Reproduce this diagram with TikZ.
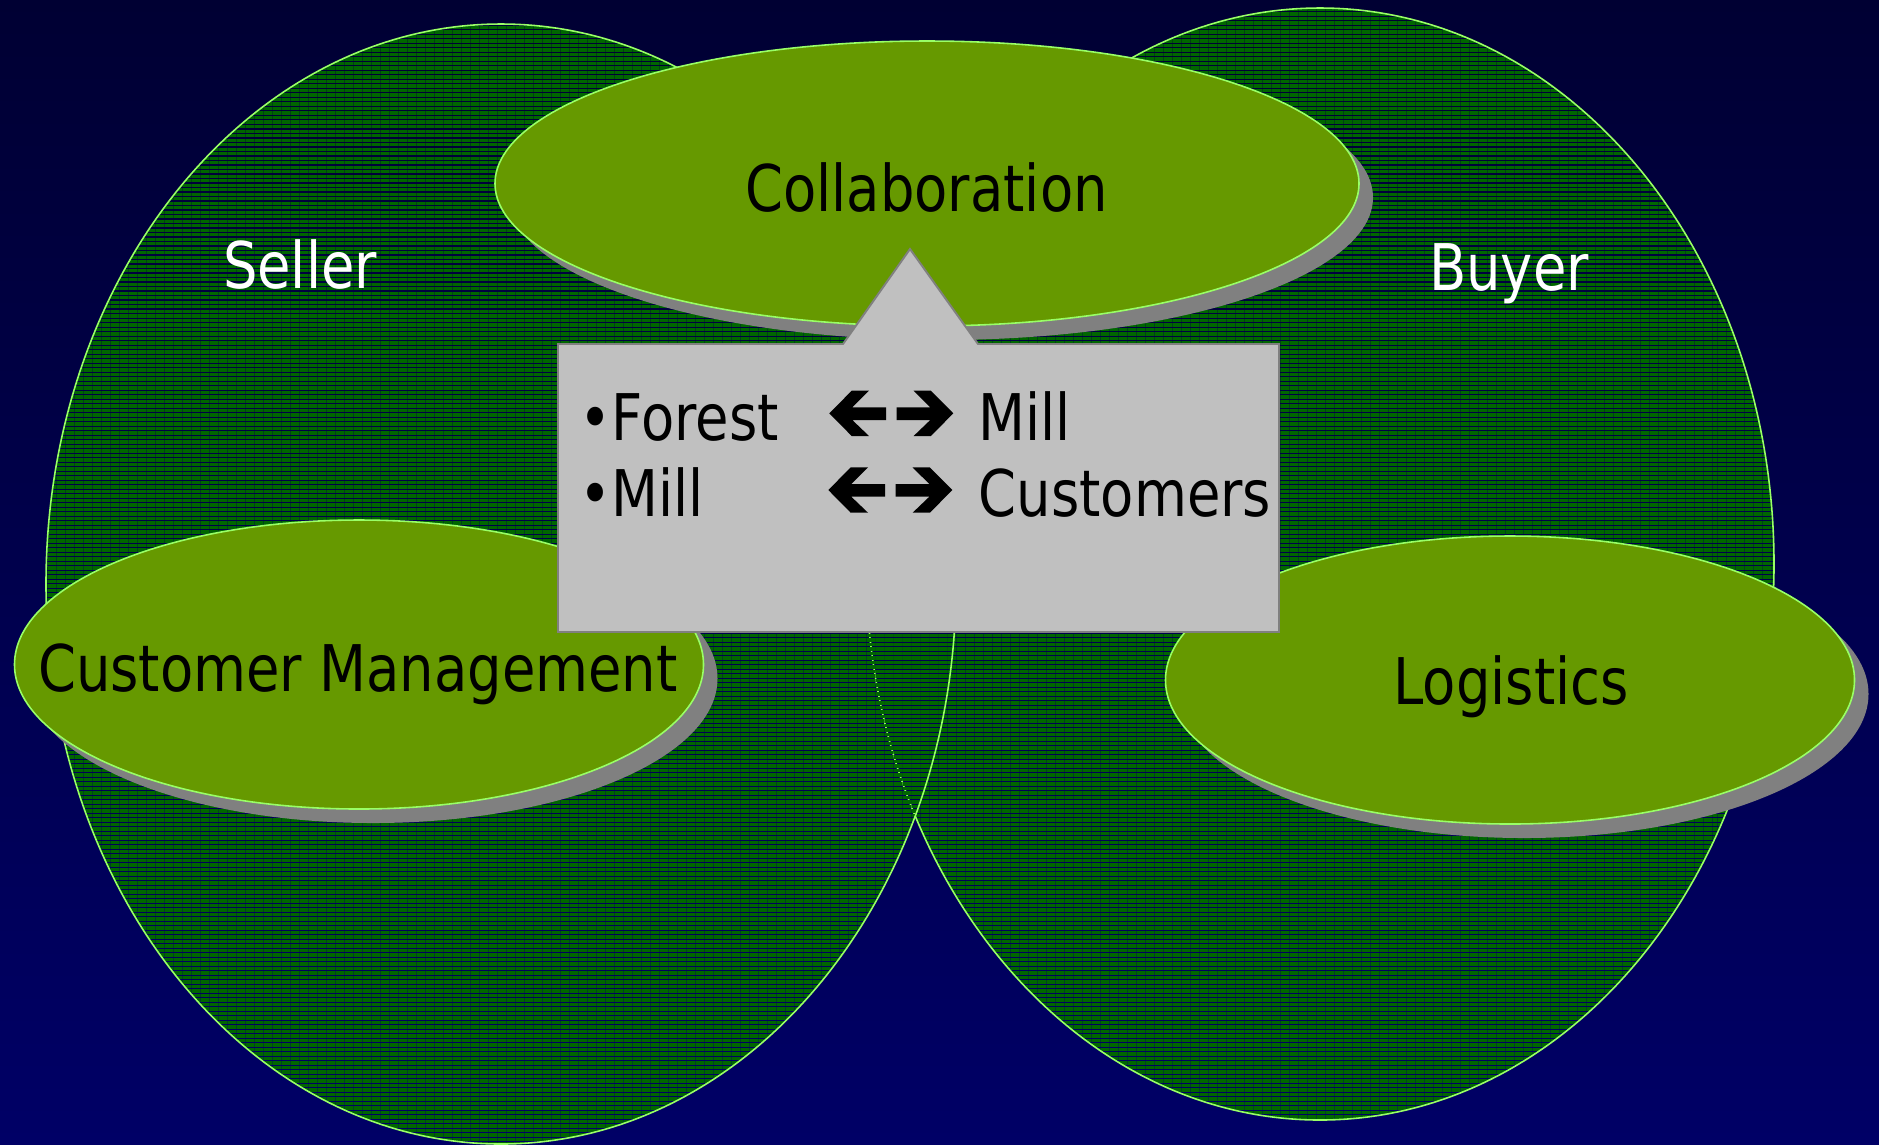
\documentclass[tikz,border=0pt]{standalone}
\usepackage{fontspec}
\setmainfont{DejaVu Sans}[FakeStretch=0.845]
\usetikzlibrary{patterns.meta}
\definecolor{navytop}{HTML}{000033}
\definecolor{navybottom}{HTML}{000066}
\definecolor{stripegreen}{HTML}{006600}
\definecolor{rimgreen}{HTML}{99FF66}
\definecolor{leafgreen}{HTML}{669900}
\definecolor{shadowgray}{HTML}{808080}
\definecolor{boxgray}{HTML}{C0C0C0}
\tikzset{
	venn/.style={draw=rimgreen, line width=0.45pt, pattern={Lines[angle=0, distance=1.28pt, line width=0.98pt]}, pattern color=stripegreen},
	bubble/.style={fill=leafgreen, draw=rimgreen, line width=0.45pt},
	bubbleshadow/.style={fill=shadowgray},
	callout/.style={fill=boxgray, draw=shadowgray, line width=0.55pt},
	venntext/.style={text=white, font=\fontsize{18.3}{22}\selectfont, inner sep=0pt},
	bubbletext/.style={text=black, font=\fontsize{18.3}{22}\selectfont, inner sep=0pt}
}
\def\fatarrows(#1,#2){
	\fill[black, shift={(#1,#2)}] (0,0) -- (22.4,-22.6) -- (39.7,-22.6) -- (23,-6) -- (56.7,-6) -- (56.7,6.7) -- (23,6.7) -- (39.7,22.7) -- (22.4,22.7) -- cycle;
	\fill[black, shift={(#1+124,#2)}] (0,0) -- (-22.4,-22.6) -- (-39.7,-22.6) -- (-23,-6) -- (-56.7,-6) -- (-56.7,6.7) -- (-23,6.7) -- (-39.7,22.7) -- (-22.4,22.7) -- cycle;
}

\begin{document}
\begin{tikzpicture}[x=0.01cm, y=-0.01cm]
		%%%%% START %%%%%
		
		\useasboundingbox (0,0) rectangle (1879,1144);
		\shade[top color=navytop, bottom color=navybottom] (0,0) rectangle (1879,1144);
		
		% buyer and seller
		\draw[venn] (1320,564) ellipse (454 and 556);
		\draw[venn] (501,584) ellipse (455 and 560);
		
		% bubbles
		\fill[bubbleshadow] (941,197.5) ellipse (432 and 142.5);
		\draw[bubble] (927,183.5) ellipse (432 and 142.5);
		
		\fill[bubbleshadow] (373,678.5) ellipse (344.5 and 144.5);
		\draw[bubble] (359,664.5) ellipse (344.5 and 144.5);
		
		\fill[bubbleshadow] (1524,694) ellipse (344.5 and 144);
		\draw[bubble] (1510,680) ellipse (344.5 and 144);
		
		% callout
		\draw[callout] (558,344) -- (843,344) -- (910,249) -- (978,344) -- (1279,344) -- (1279,632) -- (558,632) -- cycle;
		
		\node[venntext, anchor=base] (seller) at (300,288) {Seller};
		\node[venntext, anchor=base] (buyer) at (1509,290) {Buyer};
		\node[bubbletext, anchor=base] (collab) at (926.5,211) {Collaboration};
		\node[bubbletext, anchor=base] (custmgmt) at (358,691) {Customer Management};
		\node[bubbletext, anchor=base] (logistics) at (1511,704) {Logistics};
		
		\node[bubbletext, anchor=base west] (forest) at (579,440) {•Forest};
		\node[bubbletext, anchor=base west] (millone) at (978,440) {Mill};
		\node[bubbletext, anchor=base west] (milltwo) at (579,516) {•Mill};
		\node[bubbletext, anchor=base west] (customers) at (978,516) {Customers};
		
		\fatarrows(829.3,413.3)
		\fatarrows(828.3,490)
		
		%%%%% END %%%%%
\end{tikzpicture}
\end{document}
